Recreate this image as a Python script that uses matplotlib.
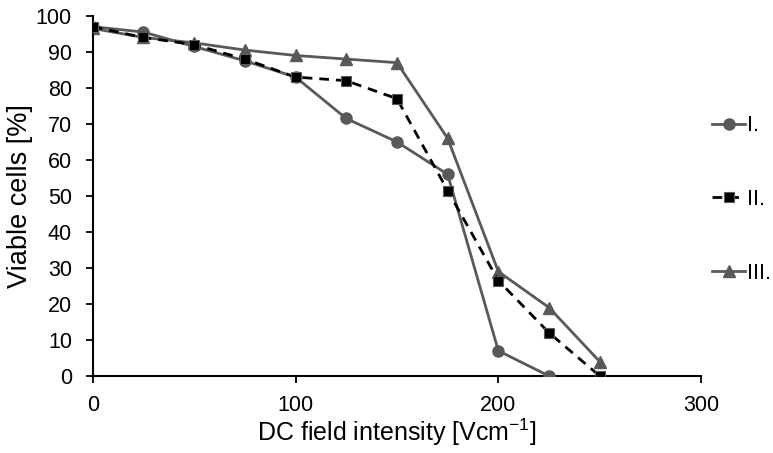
import matplotlib
matplotlib.use("Agg")
import matplotlib.pyplot as plt

plt.rcParams['font.family'] = ['Liberation Sans', 'DejaVu Sans']
plt.rcParams['mathtext.default'] = 'regular'

x_I = [0, 25, 50, 75, 100, 125, 150, 175, 200, 225]
y_I = [97, 95.5, 91.5, 87.5, 83, 71.5, 65, 56, 7, 0]
x_II = [0, 25, 50, 75, 100, 125, 150, 175, 200, 225, 250]
y_II = [97, 94, 92, 88, 83, 82, 77, 51.5, 26.5, 12, 0]
x_III = [0, 25, 50, 75, 100, 125, 150, 175, 200, 225, 250]
y_III = [96.5, 94, 92.5, 90.5, 89, 88, 87, 66, 29, 19, 4]
labels = ["I.", "II.", "III."]
xticks = [0, 100, 200, 300]
yticks = list(range(0, 101, 10))

grey = "#595959"
fig = plt.figure(figsize=(7.73, 4.53), dpi=100)
ax = fig.add_axes([0.120, 0.170, 0.787, 0.795])

ax.plot(x_I, y_I, color=grey, lw=2.0, marker='o', ms=8, label=labels[0], zorder=3)
ax.plot(x_II, y_II, color='black', lw=2.0, ls=(0, (3.5, 2.5)), marker='s', ms=7,
        mfc='black', mec=grey, mew=0.8, label=labels[1], zorder=4)
ax.plot(x_III, y_III, color=grey, lw=2.0, marker='^', ms=9, label=labels[2], zorder=2)

ax.set_xlim(0, 300)
ax.set_ylim(0, 100)
ax.set_xticks(xticks)
ax.set_yticks(yticks)
for s in ['top', 'right']:
    ax.spines[s].set_visible(False)
for s in ['left', 'bottom']:
    ax.spines[s].set_linewidth(1.5)
    ax.spines[s].set_color('black')
ax.tick_params(axis='both', direction='out', length=5, width=1.3, labelsize=15.5,
               colors='black')
ax.tick_params(axis='y', pad=10)
ax.tick_params(axis='x', pad=9)
ax.set_xlabel("DC field intensity [Vcm$^{-1}$]", fontsize=18, labelpad=0)
ax.set_ylabel("Viable cells [%]", fontsize=19.5, labelpad=2)

fig.legend(loc='center left', bbox_to_anchor=(0.921, 0.560), frameon=False,
           fontsize=15.5, labelspacing=2.45, handlelength=1.55, handletextpad=0.1,
           borderaxespad=0, borderpad=0)

fig.savefig("out.png", dpi=100)
